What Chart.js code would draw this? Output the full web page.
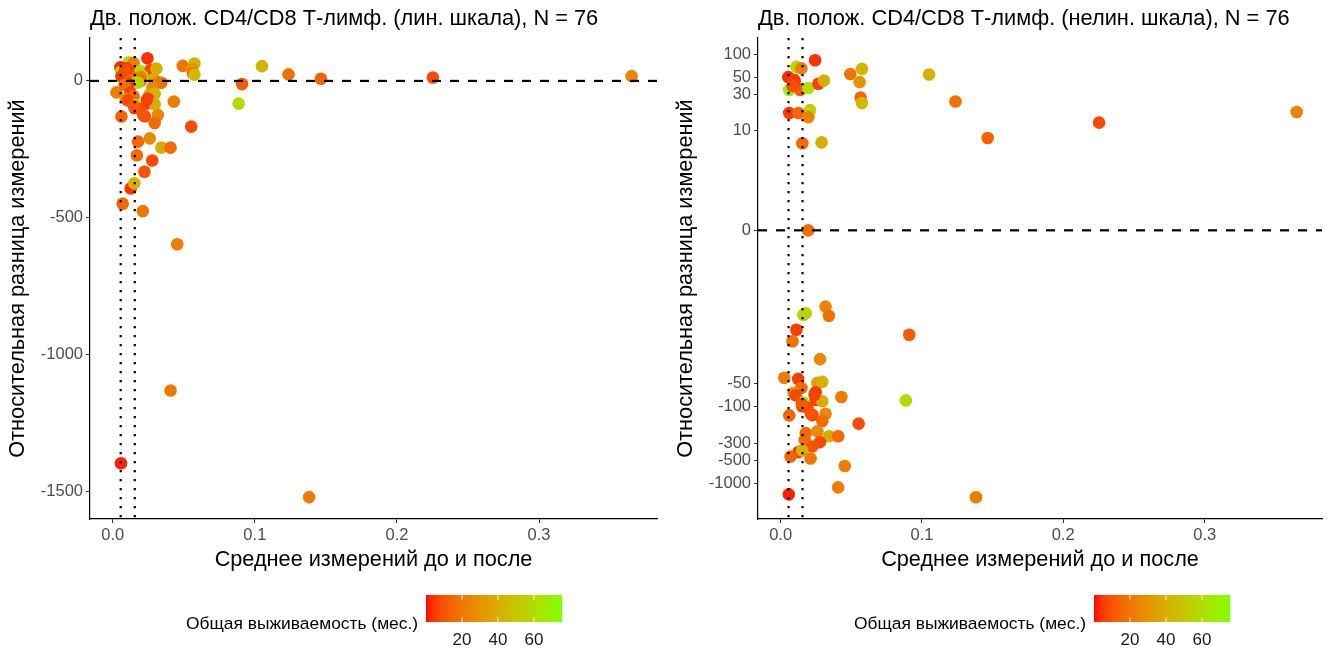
<!DOCTYPE html>
<html>
<head>
<meta charset="utf-8">
<script src="https://cdn.jsdelivr.net/npm/chart.js@4.4.1/dist/chart.umd.min.js"></script>
<style>
  body { margin: 0; background: #fff; }
  .panel { position: absolute; top: 0; width: 668px; height: 653px; }
</style>
</head>
<body>
<div class="panel" style="left:0"><canvas id="linChart" width="668" height="653"></canvas></div>
<div class="panel" style="left:668px"><canvas id="asinhChart" width="668" height="653"></canvas></div>
<script>
// mean of before/after measurement, relative difference (%), overall survival (months)
const meanValues = [
    0.0244, 0.0112, 0.0147, 0.0054, 0.0096, 0.0091, 0.0138, 0.0061, 0.0196, 0.0267,
    0.0307, 0.0493, 0.0575, 0.0559, 0.0566, 0.0575, 0.1050, 0.1237, 0.0061, 0.0126,
    0.0208, 0.0196, 0.0154, 0.0290, 0.0196, 0.1465, 0.2253, 0.3651,
    0.0318, 0.0342, 0.0178, 0.0161, 0.0112, 0.0084, 0.0910, 0.0279, 0.0026, 0.0124,
    0.0147, 0.0091, 0.0107, 0.0260, 0.0295, 0.0248, 0.0248, 0.0295, 0.0430, 0.0886,
    0.0154, 0.0161, 0.0189, 0.0061, 0.0225, 0.0318, 0.0295, 0.0552, 0.0178, 0.0260,
    0.0342, 0.0407, 0.0170, 0.0278, 0.0223, 0.0126, 0.0070, 0.0152, 0.0212, 0.0454,
    0.0407, 0.0058, 0.1382,
    0.0100, 0.0085, 0.0240, 0.0150, 0.0215
];
const relDiffs = [
    83, 68, 65, 50, 46, 41, 34, 34, 36, 41,
    45, 55, 64, 43, 27, 23, 54, 24, 17, 17,
    18.5, 15, 6.8, 7, 0, 8, 12.7, 17.5,
    -4.9, -6.5, -6.0, -6.3, -9.9, -14, -11.5, -24, -42, -43.5,
    -57, -66, -71, -49, -47.5, -65, -82, -85, -75, -83,
    -99, -88, -103, -130, -129, -124, -154, -167, -222, -210,
    -244, -244, -272, -291, -332, -393, -449, -374, -476, -597,
    -1132, -1398, -1522,
    44, 38, -70, -92, -125
];
const survivalMonths = [
    4, 58, 22, 3, 6, 8, 12, 72, 60, 7,
    40, 20, 42, 30, 14, 45, 42, 18, 5, 15,
    56, 24, 16, 40, 17, 14, 8, 24,
    24, 18, 55, 55, 6, 18, 12, 26, 22, 6,
    16, 30, 8, 34, 42, 5, 7, 40, 22, 58,
    3, 75, 8, 15, 6, 25, 16, 8, 15, 27,
    40, 16, 17, 8, 10, 4, 15, 42, 20, 22,
    21, 2, 21,
    5, 9, 6, 12, 10
];

// reference lines
const vlineX = [0.0056, 0.0155];
const hlineY = 0;

// ticks
const xTicks = [0, 0.1, 0.2, 0.3];
const linYTicks = [0, -500, -1000, -1500];
const asinhYTicks = [100, 50, 30, 10, 0, -50, -100, -300, -500, -1000];

// colour scale
const survLimits = [0, 75.6];
const legendBreaks = [20, 40, 60];
const lowColor = [255, 0, 0];
const highColor = [127, 255, 0];

const FONT = '"Liberation Sans", Arial, sans-serif';

// --- Lab interpolation, same idea as ggplot's gradient ---
const WHITE = [0.95047, 1, 1.08883];
function toLin(c) { c /= 255; return c <= 0.04045 ? c / 12.92 : Math.pow((c + 0.055) / 1.055, 2.4); }
function fromLin(c) {
    c = c <= 0.0031308 ? 12.92 * c : 1.055 * Math.pow(c, 1 / 2.4) - 0.055;
    return Math.round(Math.min(1, Math.max(0, c)) * 255);
}
function rgbToLab(rgb) {
    const [R, G, B] = rgb.map(toLin);
    const X = 0.4124 * R + 0.3576 * G + 0.1805 * B;
    const Y = 0.2126 * R + 0.7152 * G + 0.0722 * B;
    const Z = 0.0193 * R + 0.1192 * G + 0.9505 * B;
    const f = t => t > 0.008856 ? Math.cbrt(t) : 7.787 * t + 16 / 116;
    const fx = f(X / WHITE[0]), fy = f(Y / WHITE[1]), fz = f(Z / WHITE[2]);
    return [116 * fy - 16, 500 * (fx - fy), 200 * (fy - fz)];
}
function labToRgb(lab) {
    const fy = (lab[0] + 16) / 116, fx = fy + lab[1] / 500, fz = fy - lab[2] / 200;
    const inv = t => t * t * t > 0.008856 ? t * t * t : (t - 16 / 116) / 7.787;
    const X = WHITE[0] * inv(fx), Y = WHITE[1] * inv(fy), Z = WHITE[2] * inv(fz);
    const R = 3.2406 * X - 1.5372 * Y - 0.4986 * Z;
    const G = -0.9689 * X + 1.8758 * Y + 0.0415 * Z;
    const B = 0.0557 * X - 0.2040 * Y + 1.0570 * Z;
    return [fromLin(R), fromLin(G), fromLin(B)];
}
const lowLab = rgbToLab(lowColor), highLab = rgbToLab(highColor);
function survColor(v) {
    const t = Math.min(1, Math.max(0, (v - survLimits[0]) / (survLimits[1] - survLimits[0])));
    const rgb = labToRgb(lowLab.map((l, i) => l + (highLab[i] - l) * t));
    return `rgb(${rgb[0]}, ${rgb[1]}, ${rgb[2]})`;
}

// --- y scale with asinh transform (pseudo-log) ---
class AsinhScale extends Chart.Scale {
    determineDataLimits() {
        this.min = this.options.min;
        this.max = this.options.max;
    }
    buildTicks() {
        return asinhYTicks.map(v => ({ value: v }));
    }
    configure() {
        super.configure();
        this._start = Math.asinh(this.min);
        this._range = Math.asinh(this.max) - this._start;
    }
    getLabelForValue(v) { return String(v); }
    getPixelForValue(v) {
        return this.getPixelForDecimal((Math.asinh(v) - this._start) / this._range);
    }
    getValueForPixel(p) {
        return Math.sinh(this._start + this.getDecimalForPixel(p) * this._range);
    }
}
AsinhScale.id = 'asinh';
AsinhScale.defaults = {};
Chart.register(AsinhScale);

const points = meanValues.map((x, i) => ({ x: x, y: relDiffs[i] }));
const pointColors = survivalMonths.map(survColor);

function panelDecor(title) {
    return {
        id: 'panelDecor',
        afterDatasetsDraw(chart) {
            const { ctx, chartArea: a, scales: { x, y } } = chart;
            ctx.save();
            ctx.beginPath();
            ctx.rect(a.left, a.top, a.right - a.left, a.bottom - a.top);
            ctx.clip();
            ctx.strokeStyle = '#000';
            ctx.lineWidth = 2.2;
            ctx.setLineDash([2.2, 6.8]);
            vlineX.forEach(v => {
                const px = x.getPixelForValue(v);
                ctx.beginPath();
                ctx.moveTo(px, a.top);
                ctx.lineTo(px, a.bottom);
                ctx.stroke();
            });
            ctx.setLineDash([9, 9]);
            const py = y.getPixelForValue(hlineY);
            ctx.beginPath();
            ctx.moveTo(a.left, py);
            ctx.lineTo(a.right, py);
            ctx.stroke();
            ctx.restore();
        },
        afterDraw(chart) {
            const { ctx, chartArea: a } = chart;
            ctx.save();
            ctx.fillStyle = '#000';
            ctx.font = `21.8px ${FONT}`;
            ctx.textAlign = 'left';
            ctx.textBaseline = 'alphabetic';
            ctx.fillText(title, a.left, 25);

            // colour bar legend
            const bar = { x: 426, y: 595, w: 136, h: 27 };
            ctx.font = `17.4px ${FONT}`;
            ctx.fillText('Общая выживаемость (мес.)', 186, 629);
            for (let i = 0; i < bar.w; i++) {
                const v = survLimits[0] + (i + 0.5) / bar.w * (survLimits[1] - survLimits[0]);
                ctx.fillStyle = survColor(v);
                ctx.fillRect(bar.x + i, bar.y, 1.2, bar.h);
            }
            ctx.font = `17px ${FONT}`;
            ctx.textAlign = 'center';
            ctx.strokeStyle = 'rgba(255,255,255,0.8)';
            ctx.lineWidth = 1;
            legendBreaks.forEach(b => {
                const bx = bar.x + (b - survLimits[0]) / (survLimits[1] - survLimits[0]) * bar.w;
                ctx.beginPath();
                ctx.moveTo(bx, bar.y); ctx.lineTo(bx, bar.y + 5);
                ctx.moveTo(bx, bar.y + bar.h - 5); ctx.lineTo(bx, bar.y + bar.h);
                ctx.stroke();
                ctx.fillStyle = '#1a1a1a';
                ctx.fillText(String(b), bx, 645);
            });
            ctx.restore();
        }
    };
}

function axisStyle(titleText, ticksDef, fmt) {
    return {
        grid: { drawOnChartArea: false, drawTicks: true, tickLength: 4, tickWidth: 1, tickColor: '#333' },
        border: { display: true, color: '#000', width: 1.2 },
        ticks: { color: '#4d4d4d', font: { family: FONT, size: 16.5 }, padding: 3, autoSkip: false, maxRotation: 0, callback: fmt },
        title: { display: true, text: titleText, color: '#000', font: { family: FONT, size: 21.7 }, padding: { top: 5, bottom: 2 } },
        afterBuildTicks: ticksDef ? (s => { s.ticks = ticksDef.map(v => ({ value: v })); }) : undefined
    };
}

function makeChart(id, title, yAxis, padRight) {
    const xAxis = Object.assign(axisStyle('Среднее измерений до и после', xTicks, v => v.toFixed(1)), {
        type: 'linear', min: -0.016, max: 0.383,
        afterFit: s => { s.height = 56; }
    });
    yAxis.afterFit = s => { s.width = 90; };
    return new Chart(document.getElementById(id), {
        type: 'scatter',
        data: {
            datasets: [{
                data: points,
                backgroundColor: pointColors,
                borderWidth: 0,
                pointRadius: 6.3,
                pointHoverRadius: 6.3
            }]
        },
        options: {
            responsive: false,
            animation: false,
            events: [],
            layout: { padding: { top: 38, left: 0, right: padRight, bottom: 78 } },
            plugins: { legend: { display: false }, tooltip: { enabled: false } },
            scales: { x: xAxis, y: yAxis }
        },
        plugins: [panelDecor(title)]
    });
}

const yTitle = 'Относительная разница измерений';
const N = meanValues.length;

makeChart('linChart', `Дв. полож. CD4/CD8 Т-лимф. (лин. шкала), N = ${N}`,
    Object.assign(axisStyle(yTitle, linYTicks, v => String(v)), { type: 'linear', min: -1602, max: 157 }), 11);

const asinhAxis = axisStyle(yTitle, null, v => String(v));
delete asinhAxis.afterBuildTicks;
makeChart('asinhChart', `Дв. полож. CD4/CD8 Т-лимф. (нелин. шкала), N = ${N}`,
    Object.assign(asinhAxis, { type: 'asinh', min: -2932, max: 162 }), 14);
</script>
</body>
</html>
